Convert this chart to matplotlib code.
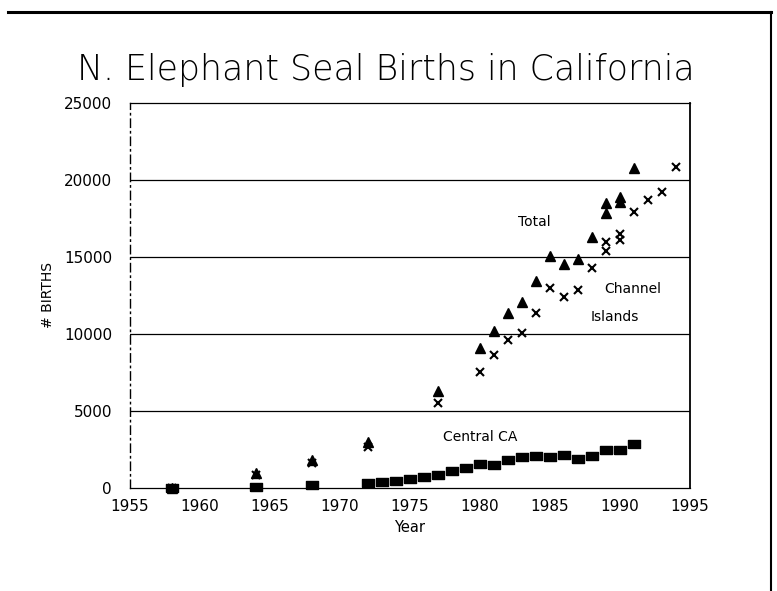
import matplotlib
matplotlib.use("Agg")
import matplotlib.pyplot as plt
from matplotlib.lines import Line2D

# ---- data ----
total_years = [1958, 1964, 1968, 1972, 1977, 1980, 1981, 1982, 1983, 1984,
               1985, 1986, 1987, 1988, 1989, 1989, 1990, 1990, 1991]
total_births = [20, 950, 1820, 3010, 6320, 9100, 10200, 11350, 12100, 13460,
                15070, 14570, 14850, 16300, 18480, 17850, 18900, 18600, 20780]

channel_years = [1958, 1964, 1968, 1972, 1977, 1980, 1981, 1982, 1983, 1984,
                 1985, 1986, 1987, 1988, 1989, 1989, 1990, 1990, 1991, 1992,
                 1993, 1994]
channel_births = [10, 870, 1620, 2660, 5500, 7510, 8650, 9600, 10090, 11390,
                  13010, 12380, 12860, 14270, 16000, 15410, 16500, 16100, 17900,
                  18700, 19250, 20830]

central_years = [1958, 1964, 1968, 1972, 1973, 1974, 1975, 1976, 1977, 1978,
                 1979, 1980, 1981, 1982, 1983, 1984, 1985, 1986, 1987, 1988,
                 1989, 1990, 1991]
central_births = [10, 80, 200, 350, 410, 480, 610, 710, 870, 1120,
                  1280, 1540, 1470, 1820, 2010, 2100, 2040, 2140, 1900, 2080,
                  2450, 2450, 2860]

x_ticks = [1955, 1960, 1965, 1970, 1975, 1980, 1985, 1990, 1995]
x_tick_labels = ["1955", "1960", "1965", "1970", "1975", "1980", "1985", "1990", "1995"]
y_ticks = [0, 5000, 10000, 15000, 20000, 25000]
y_tick_labels = ["0", "5000", "10000", "15000", "20000", "25000"]

W, H = 777, 591
fig = plt.figure(figsize=(W / 100, H / 100), dpi=100)
fig.patch.set_facecolor("white")
ax = fig.add_axes([130 / W, (H - 488) / H, (690 - 130) / W, (488 - 103) / H])

ax.set_xlim(1955, 1995)
ax.set_ylim(0, 25000)

# horizontal grid lines
for v in y_ticks[1:-1]:
    ax.axhline(v, color="black", lw=0.9, zorder=1)

for side in ["top", "bottom"]:
    ax.spines[side].set_linewidth(0.9)
ax.spines["left"].set_linewidth(1.0)
ax.spines["left"].set_linestyle((0, (6, 3, 1, 3)))
ax.spines["right"].set_linewidth(1.3)

ax.set_xticks(x_ticks)
ax.set_xticklabels(x_tick_labels, fontsize=11)
ax.set_yticks(y_ticks)
ax.set_yticklabels(y_tick_labels, fontsize=11)
ax.tick_params(axis="both", length=0)
ax.tick_params(axis="x", pad=8)
ax.tick_params(axis="y", pad=13)

ax.set_xlabel("Year", fontsize=10.5, labelpad=4)
ax.set_ylabel("# BIRTHS", fontsize=10, labelpad=6)

ax.plot(total_years, total_births, linestyle="none", marker="^", ms=7,
        color="black", clip_on=False, zorder=3)
ax.plot(channel_years, channel_births, linestyle="none", marker="x", ms=6,
        mew=1.5, color="black", clip_on=False, zorder=3)
rect = [(-1.3, -0.85), (1.3, -0.85), (1.3, 0.85), (-1.3, 0.85), (-1.3, -0.85)]
ax.plot(central_years, central_births, linestyle="none", marker=rect, ms=8.5,
        color="black", clip_on=False, zorder=3)

ax.text(1983.9, 17300, "Total", fontsize=10, ha="center", va="center")
ax.text(1990.9, 12900, "Channel", fontsize=10, ha="center", va="center")
ax.text(1989.6, 11100, "Islands", fontsize=10, ha="center", va="center")
ax.text(1980.0, 3300, "Central CA", fontsize=10, ha="center", va="center")

fig.text(0.497, 1 - 70 / H, "N. Elephant Seal Births in California",
         fontsize=25, ha="center", va="center", fontweight="light", color="black")

# page border from the scan
fig.add_artist(Line2D([8 / W, 771 / W], [1 - 12 / H, 1 - 12 / H],
                      transform=fig.transFigure, color="black", lw=2.2))
fig.add_artist(Line2D([771 / W, 771 / W], [1 - 12 / H, 0],
                      transform=fig.transFigure, color="black", lw=1.5))

fig.savefig("out.png", dpi=100, facecolor="white")
